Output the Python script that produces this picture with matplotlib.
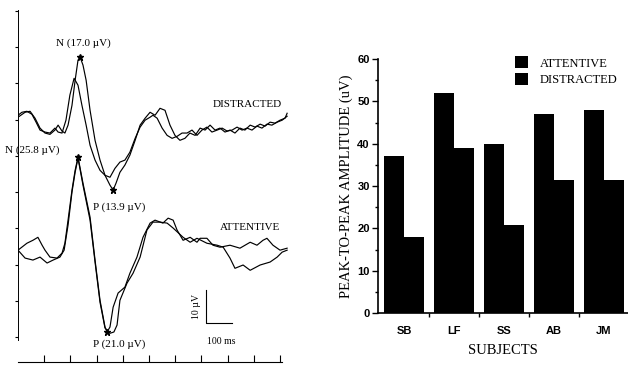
import numpy as np
import matplotlib
matplotlib.use("Agg")
import matplotlib.pyplot as plt
from matplotlib.ticker import MultipleLocator

# ---- averaged waveforms (time in ms, amplitude in uV relative to own baseline)
dist_t1 = [0, 27, 46, 65, 84, 103, 122, 141, 153, 168, 179, 191, 206, 218, 229, 237, 248, 260,
           275, 294, 313, 332, 351, 363, 374, 389, 408, 427, 447, 466, 485, 504, 523, 542, 561,
           580, 599, 618, 637, 656, 676, 695, 714, 733, 752, 771, 790, 809, 828, 847, 866, 886,
           905, 924, 943, 962, 981, 1000, 1019, 1027]
dist_a1 = [0, 1.5, 1.8, -0.3, -3.3, -4.8, -5.2, -3.9, -2.4, -4.2, -4.8, -2.4, 3.6, 11.2, 17.3, 18.2,
           15.8, 11.2, 2.1, -7.0, -13.0, -17.6, -20.6, -22.1, -20.0, -16.7, -14.5, -11.5, -7.0,
           -2.4, -0.3, 1.5, 0.6, 2.7, 2.1, -2.4, -5.5, -7.0, -6.4, -4.8, -5.5, -3.3, -3.9, -2.4,
           -3.9, -3.3, -4.5, -3.9, -4.8, -3.3, -3.9, -2.4, -3.0, -2.1, -2.7, -1.5, -1.8, -0.9,
           -0.3, 1.2]
dist_t2 = [0, 15, 34, 53, 69, 84, 103, 122, 141, 153, 168, 183, 198, 214, 229, 244, 260, 275, 294,
           313, 332, 351, 370, 389, 408, 427, 447, 466, 485, 504, 515, 531, 550, 569, 588, 607,
           626, 645, 664, 683, 702, 721, 740, 760, 779, 798, 817, 836, 855, 874, 893, 912, 931,
           950, 969, 989, 1008, 1027]
dist_a2 = [0.6, 1.5, 1.8, 0.9, -1.5, -3.9, -4.5, -4.8, -3.3, -4.5, -4.8, -0.9, 6.7, 11.8, 9.7, 3.6,
           -2.4, -8.5, -13.0, -16.1, -17.6, -18.2, -15.5, -13.6, -13.0, -10.6, -6.4, -3.0, -0.9,
           0, 0.6, -0.3, -3.3, -5.5, -6.4, -5.8, -4.8, -4.8, -3.9, -5.5, -3.9, -3.0, -4.5, -3.9,
           -3.3, -4.2, -3.9, -3.0, -3.9, -3.3, -3.9, -2.7, -3.3, -2.1, -2.4, -1.5, -0.9, 0.3]

att_t1 = [0, 34, 57, 76, 92, 103, 122, 149, 168, 179, 191, 206, 218, 229, 248, 275, 294, 313, 332,
          340, 351, 363, 382, 408, 427, 454, 477, 504, 523, 553, 573, 592, 607, 630, 657, 683,
          695, 721, 744, 771, 809, 847, 886, 912, 935, 950, 973, 1000, 1027]
att_a1 = [0, 2.1, 3.0, 3.9, 1.5, 0, -2.1, -2.4, -0.9, 2.1, 9.1, 18.2, 24.2, 28.2, 20.3, 10.0,
          -3.0, -15.2, -23.3, -24.8, -23.3, -17.3, -13.0, -11.2, -7.0, -2.1, 3.9, 8.2, 9.1, 8.2,
          9.7, 9.1, 6.1, 3.0, 3.9, 2.4, 3.6, 3.6, 1.5, 0.9, 1.5, 0.6, 2.4, 1.5, 3.0, 3.6, 1.5,
          0, 0.6]
att_t2 = [0, 27, 57, 84, 111, 134, 160, 176, 191, 206, 218, 229, 248, 275, 294, 313, 332, 351,
          366, 378, 389, 416, 439, 466, 492, 515, 542, 569, 592, 630, 657, 683, 721, 760, 783,
          809, 828, 859, 886, 924, 962, 989, 1008, 1027]
att_a2 = [0, -2.4, -3.0, -2.1, -3.9, -3.0, -2.1, 0, 7.6, 17.6, 23.6, 27.9, 19.7, 9.1, -3.6, -15.8,
          -23.6, -25.2, -24.8, -22.7, -15.2, -10.0, -7.0, -2.1, 6.1, 8.5, 8.5, 8.2, 6.7, 3.9, 2.4,
          3.6, 2.1, 1.5, 0.9, -2.4, -5.5, -4.5, -6.1, -4.5, -3.6, -2.1, -0.6, 0]

# ---- peak-to-peak amplitudes per subject
subjects = ["SB", "LF", "SS", "AB", "JM"]
attentive = [37, 52, 40, 47, 48]
distracted = [18, 39, 20.8, 31.5, 31.5]

SERIF = ["Liberation Serif", "DejaVu Serif"]
SANS = ["Liberation Sans", "DejaVu Sans"]

dist_base = 74.2
att_base = 33.9

fig = plt.figure(figsize=(6.28, 3.73), dpi=100)

# ---------------- left panel: waveforms ----------------
ax1 = fig.add_axes([18 / 628, 11 / 373, 272 / 628, 352 / 373])
lw = 0.85
ax1.plot(dist_t1, np.array(dist_a1) + dist_base, color="k", lw=lw)
ax1.plot(dist_t2, np.array(dist_a2) + dist_base, color="k", lw=lw)
ax1.plot(att_t1, np.array(att_a1) + att_base, color="k", lw=lw)
ax1.plot(att_t2, np.array(att_a2) + att_base, color="k", lw=lw)

# star markers on the peaks
for t, a, base in [(dist_t1, dist_a1, dist_base), (att_t1, att_a1, att_base)]:
    a = np.array(a)
    for i in (a.argmax(), a.argmin()):
        ax1.plot(t[i], a[i] + base, marker="*", color="k", ms=5, clip_on=False)

ax1.set_xlim(0, 1038)
ax1.set_ylim(0, 106.7)
for s in ["top", "right"]:
    ax1.spines[s].set_visible(False)
ax1.spines["left"].set_bounds(6.7, 106.7)
ax1.spines["bottom"].set_bounds(0, 1008)
ax1.spines["left"].set_linewidth(0.7)
ax1.spines["bottom"].set_linewidth(0.8)
ax1.set_xticks(np.arange(100, 1001, 100))
ax1.set_yticks(np.arange(7.5, 107, 11))
ax1.tick_params(axis="x", direction="in", length=5, width=0.8, labelbottom=False)
ax1.tick_params(axis="y", direction="out", length=2, width=0.8, labelleft=False)

tkw = dict(family=SERIF, fontsize=8, color="k")
ax1.text(248, 96.7, "N (17.0 µV)", ha="center", va="center", **tkw)
ax1.text(744, 78.2, "DISTRACTED", ha="left", va="center", **tkw)
ax1.text(-50, 64.2, "N (25.8 µV)", ha="left", va="center", clip_on=False, **tkw)
ax1.text(286, 47, "P (13.9 µV)", ha="left", va="center", **tkw)
ax1.text(771, 40.9, "ATTENTIVE", ha="left", va="center", **tkw)
ax1.text(286, 5.5, "P (21.0 µV)", ha="left", va="center", **tkw)

# scale bar
ax1.plot([718, 718, 818], [21.8, 11.8, 11.8], color="k", lw=0.8)
ax1.text(680, 16.8, "10 µV", rotation=90, ha="center", va="center", family=SERIF, fontsize=7)
ax1.text(775, 6.1, "100 ms", ha="center", va="center", family=SERIF, fontsize=7)

# ---------------- right panel: bar chart ----------------
ax2 = fig.add_axes([378 / 628, 60 / 373, 250 / 628, 254 / 373])
x = np.arange(len(subjects))
w = 0.40
b1 = ax2.bar(x - w / 2, attentive, w, color="k", label="ATTENTIVE")
b2 = ax2.bar(x + w / 2, distracted, w, color="k", label="DISTRACTED")
ax2.set_xlim(-0.52, 4.48)
ax2.set_ylim(0, 60)
for s in ["top", "right"]:
    ax2.spines[s].set_visible(False)
ax2.spines["left"].set_linewidth(1.2)
ax2.spines["bottom"].set_linewidth(1.2)
ax2.yaxis.set_major_locator(MultipleLocator(10))
ax2.yaxis.set_minor_locator(MultipleLocator(5))
ax2.set_xticks(x)
ax2.set_xticklabels(subjects, family=SANS, fontsize=8, fontweight="bold")
ax2.set_xticks(x[:-1] + 0.5, minor=True)
ax2.tick_params(axis="x", which="major", length=0, pad=9)
ax2.tick_params(axis="x", which="minor", length=3, width=1, direction="out")
ax2.tick_params(axis="y", which="major", length=4, width=1, direction="out", pad=2)
ax2.tick_params(axis="y", which="minor", length=2.5, width=1, direction="out")
for lab in ax2.get_yticklabels():
    lab.set_family(SANS)
    lab.set_fontsize(8)
    lab.set_fontweight("bold")

ax2.set_ylabel("PEAK-TO-PEAK AMPLITUDE (uV)", family=SERIF, fontsize=10.5, labelpad=3)
ax2.set_xlabel("SUBJECTS", family=SERIF, fontsize=10.5, labelpad=6)

ax2.legend(handles=[b1, b2], loc="upper left", bbox_to_anchor=(0.548, 1.01), frameon=False,
           prop={"family": SERIF, "size": 9}, handlelength=1.05, handleheight=1.05,
           handletextpad=0.95, labelspacing=0.3, borderpad=0, borderaxespad=0)

fig.savefig("out.png", dpi=100, facecolor="white")
